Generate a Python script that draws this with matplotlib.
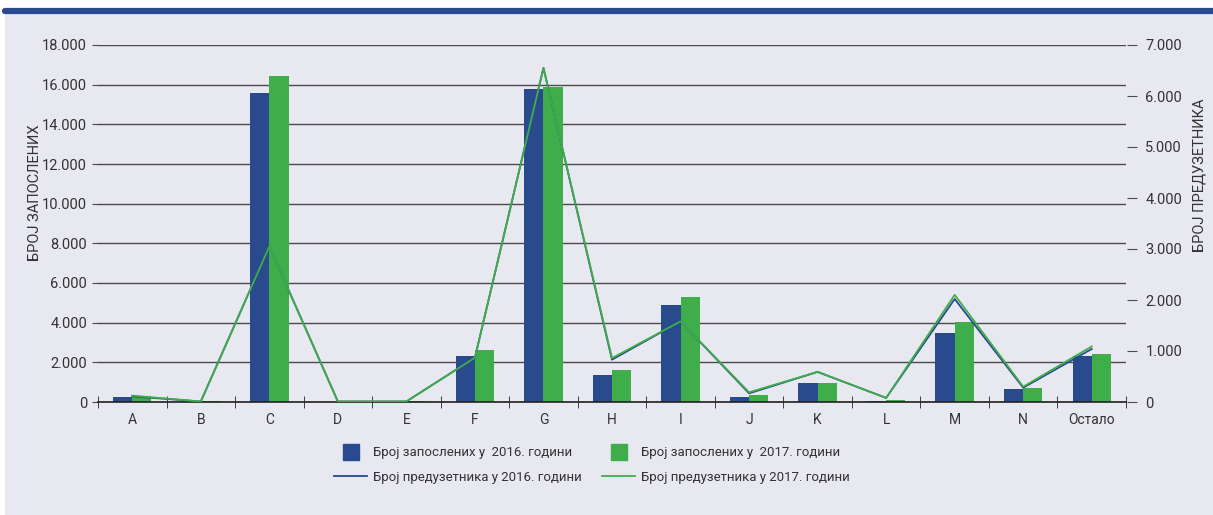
import matplotlib
matplotlib.use('Agg')
import matplotlib.pyplot as plt
import numpy as np
from matplotlib.lines import Line2D
from matplotlib.patches import Rectangle

plt.rcParams['font.family'] = ['Roboto', 'DejaVu Sans']

# podaci
categories = ['A', 'B', 'C', 'D', 'E', 'F', 'G', 'H', 'I', 'J', 'K', 'L', 'M', 'N', 'Остало']
employees_2016 = [250, 30, 15600, 10, 30, 2300, 15800, 1350, 4900, 250, 950, 50, 3500, 650, 2300]
employees_2017 = [300, 40, 16450, 10, 30, 2600, 15900, 1600, 5300, 350, 950, 100, 4050, 700, 2400]
entrepreneurs_2016 = [110, 10, 3050, 10, 10, 870, 6550, 830, 1580, 170, 590, 80, 2020, 280, 1040]
entrepreneurs_2017 = [125, 10, 3050, 10, 10, 870, 6550, 860, 1580, 190, 590, 80, 2100, 300, 1090]

left_ticks = list(range(0, 18001, 2000))
right_ticks = list(range(0, 7001, 1000))

blue = '#294a8c'
green = '#3fae4a'
bg = '#e8e8f0'
txt = '#333333'

fig = plt.figure(figsize=(12.13, 5.15), dpi=100, facecolor='white')

# pozadina i gornja linija
fig.add_artist(Rectangle((5 / 1213, 0), 1, 1 - 14 / 515, transform=fig.transFigure,
                         facecolor=bg, edgecolor='none', zorder=-10))
fig.add_artist(Line2D([5 / 1213, 1], [1 - 11 / 515] * 2, transform=fig.transFigure,
                      color=blue, lw=4.5, solid_capstyle='round'))

ax = fig.add_axes([98 / 1213, 113 / 515, 1028 / 1213, 357 / 515])
ax.set_facecolor('none')
ax2 = ax.twinx()

x = np.arange(len(categories))
w = 0.28
ax.bar(x - w / 2, employees_2016, width=w, color=blue, zorder=3)
ax.bar(x + w / 2, employees_2017, width=w, color=green, zorder=3)

ax.set_xlim(-0.5, len(categories) - 0.5)
ax.set_ylim(0, 18000)
ax.set_yticks(left_ticks)
ax.set_yticklabels([f'{v:,}'.replace(',', '.') for v in left_ticks])
ax.yaxis.grid(True, color='#4a4a4a', lw=1)
ax.set_axisbelow(True)

ax.set_xticks(x)
ax.set_xticklabels(categories)
ax.set_xticks(np.arange(-0.5, len(categories)), minor=True)
ax.tick_params(axis='x', which='major', length=0, pad=8, labelsize=10, colors=txt)
ax.tick_params(axis='x', which='minor', length=8, direction='inout', color='#222222')
ax.tick_params(axis='y', length=4, color='#4a4a4a', labelsize=10.5, labelcolor=txt, pad=4)

for s in ['top', 'right', 'left']:
    ax.spines[s].set_visible(False)
ax.spines['bottom'].set_color('#222222')
ax.spines['bottom'].set_linewidth(1.2)
ax.spines['bottom'].set_zorder(5)

ax2.plot(x, entrepreneurs_2016, color=blue, lw=1.3, zorder=4)
ax2.plot(x, entrepreneurs_2017, color=green, lw=1.3, zorder=4)
ax2.set_ylim(0, 7000)
ax2.set_yticks(right_ticks)
ax2.set_yticklabels([f'{v:,}'.replace(',', '.') for v in right_ticks])
ax2.spines['right'].set_position(('outward', 1))
for s in ['top', 'right', 'left', 'bottom']:
    ax2.spines[s].set_visible(False)
ax2.tick_params(axis='y', length=7, color='#4a4a4a', labelsize=10.5, labelcolor=txt, pad=6)

fig.text(35 / 1213, 1 - 193 / 515, 'БРОЈ ЗАПОСЛЕНИХ', rotation=90, ha='center', va='center',
         fontsize=10.5, color=txt)
fig.text(1199 / 1213, 1 - 175 / 515, 'БРОЈ ПРЕДУЗЕТНИКА', rotation=90, ha='center', va='center',
         fontsize=10.5, color=txt)

handles = [Line2D([], [], marker='s', ms=12, ls='none', color=blue),
           Line2D([], [], color=blue, lw=1.3),
           Line2D([], [], marker='s', ms=12, ls='none', color=green),
           Line2D([], [], color=green, lw=1.3)]
labels = ['Број запослених у  2016. године', 'Број предузетника у 2016. години',
          'Број запослених у  2017. године', 'Број предузетника у 2017. години']
labels = [l.replace('године', 'години') for l in labels]
fig.legend(handles, labels, ncol=2, loc='center', bbox_to_anchor=(0.488, 0.097),
           frameon=False, fontsize=9.5, handlelength=2.5, columnspacing=1.6,
           labelspacing=0.85, handletextpad=0.4, labelcolor=txt)

fig.savefig('out.png', dpi=100, facecolor=fig.get_facecolor())
